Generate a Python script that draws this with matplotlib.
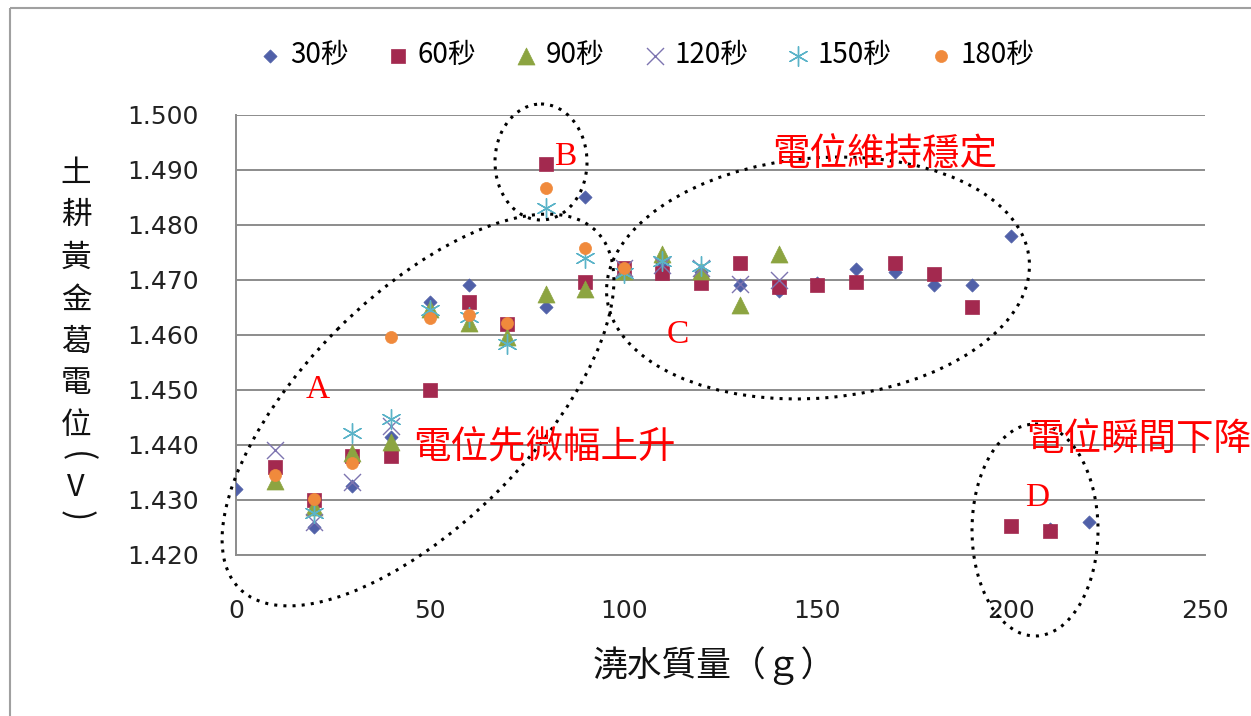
import matplotlib
matplotlib.use('Agg')
import matplotlib.pyplot as plt
from matplotlib.patches import Ellipse, Rectangle

# 澆水質量 (g) 與各浸泡時間的電位 (V)
x_30 = [0, 20, 30, 40, 50, 60, 80, 90, 100, 110, 120, 130, 140, 150, 160, 170, 180, 190, 200, 210, 220]
y_30 = [1.432, 1.425, 1.4325, 1.4415, 1.466, 1.469, 1.465, 1.485, 1.472, 1.473, 1.4715, 1.469, 1.468,
        1.4695, 1.472, 1.4715, 1.469, 1.469, 1.478, 1.4247, 1.426]

x_60 = [10, 20, 30, 40, 50, 60, 70, 80, 90, 100, 110, 120, 130, 140, 150, 160, 170, 180, 190, 200, 210]
y_60 = [1.436, 1.430, 1.438, 1.438, 1.450, 1.466, 1.462, 1.491, 1.4697, 1.4722, 1.4712, 1.4695, 1.473,
        1.4688, 1.469, 1.4697, 1.473, 1.471, 1.465, 1.4252, 1.4243]

x_90 = [10, 20, 30, 40, 50, 60, 70, 80, 90, 100, 110, 120, 130, 140]
y_90 = [1.4335, 1.4288, 1.4385, 1.4405, 1.4648, 1.4622, 1.4597, 1.4675, 1.4683, 1.4716, 1.4748,
        1.4716, 1.4655, 1.4748]

x_120 = [10, 20, 30, 40, 100, 110, 120, 130, 140]
y_120 = [1.439, 1.426, 1.4333, 1.4435, 1.4722, 1.4728, 1.4722, 1.4693, 1.4700]

x_150 = [20, 30, 40, 50, 60, 70, 80, 90, 100, 110, 120]
y_150 = [1.4276, 1.4422, 1.4447, 1.4645, 1.4632, 1.4583, 1.4831, 1.474, 1.4712, 1.4735, 1.4725]

x_180 = [10, 20, 30, 40, 50, 60, 70, 80, 90, 100]
y_180 = [1.4345, 1.4302, 1.4368, 1.4597, 1.4631, 1.4637, 1.4621, 1.4867, 1.4758, 1.4722]

labels = ['30秒', '60秒', '90秒', '120秒', '150秒', '180秒']
x_ticks = [0, 50, 100, 150, 200, 250]
y_ticks = [1.420, 1.430, 1.440, 1.450, 1.460, 1.470, 1.480, 1.490, 1.500]
y_label_chars = ['土', '耕', '黃', '金', '葛', '電', '位', '(', 'V', ')']

plt.rcParams['font.family'] = ['Noto Sans CJK TC', 'DejaVu Sans']

W, H = 1251, 716
fig = plt.figure(figsize=(W / 100, H / 100), dpi=100)
fig.patch.set_facecolor('white')

ax = fig.add_axes([236 / W, 1 - 555 / H, (1205 - 236) / W, (555 - 115) / H])

series = [
    (x_30, y_30, 'D', 45, '#5060a8', 0.5),
    (x_60, y_60, 's', 110, '#a3294f', 0.5),
    (x_90, y_90, '^', 150, '#8ca441', 0.5),
    (x_120, y_120, 'x', 150, '#7d74b0', 1.0),
    (x_150, y_150, (6, 2, 0), 200, '#5ab3c8', 1.0),
    (x_180, y_180, 'o', 75, '#f08a3c', 0.5),
]
handles = []
for i, (xs, ys, m, s, c, lw) in enumerate(series):
    if m in ('x', (6, 2, 0)):
        h = ax.scatter(xs, ys, marker=m, s=s, color=c, linewidths=lw, zorder=3 + i)
    else:
        h = ax.scatter(xs, ys, marker=m, s=s, color=c, edgecolors=c, linewidths=lw, zorder=3 + i)
    handles.append(h)

ax.set_xlim(0, 250)
ax.set_ylim(1.420, 1.500)
ax.set_xticks(x_ticks)
ax.set_yticks(y_ticks)
ax.set_yticklabels(['%.3f' % v for v in y_ticks])
ax.tick_params(length=0, labelsize=18, labelcolor='#222222')
ax.tick_params(axis='y', pad=27)
ax.tick_params(axis='x', pad=32)
for t in ax.get_xticklabels() + ax.get_yticklabels():
    t.set_fontfamily('DejaVu Sans')

ax.grid(axis='y', color='#8c8c8c', lw=1.4)
ax.set_axisbelow(True)
for side in ['top', 'right']:
    ax.spines[side].set_visible(False)
ax.spines['left'].set_color('#8c8c8c')
ax.spines['left'].set_linewidth(1.4)
ax.spines['bottom'].set_color('#8c8c8c')
ax.spines['bottom'].set_linewidth(1.4)

fig.legend(handles, labels, loc='center', bbox_to_anchor=(0.515, 1 - 55 / H), ncol=6,
           frameon=False, fontsize=20, handletextpad=0.1, columnspacing=1.2,
           scatterpoints=1, handlelength=1.2)

# 圈選區塊與說明文字 (以像素座標繪製)
ov = fig.add_axes([0, 0, 1, 1], zorder=10)
ov.set_xlim(0, W)
ov.set_ylim(H, 0)
ov.axis('off')
ov.patch.set_alpha(0)

ov.add_patch(Rectangle((10, 8), 1400, 900, fill=False, edgecolor='#a0a0a0', lw=1.5))

dots = dict(fill=False, edgecolor='black', lw=2.2, linestyle=(0, (1, 2)))
ov.add_patch(Ellipse((418, 410), 505, 228, angle=-45, **dots))
ov.add_patch(Ellipse((541, 162), 92, 116, angle=0, **dots))
ov.add_patch(Ellipse((818, 278), 424, 240, angle=-5, **dots))
ov.add_patch(Ellipse((1035, 530), 126, 212, angle=0, **dots))

ov.text(885, 155, '電位維持穩定', color='red', fontsize=27, ha='center', va='center')
ov.text(544, 448, '電位先微幅上升', color='red', fontsize=27, ha='center', va='center')
ov.text(1026, 440, '電位瞬間下降', color='red', fontsize=27, ha='left', va='center')

serif = dict(color='red', fontsize=24, ha='center', va='center', family='Liberation Serif')
ov.text(318, 390, 'A', **serif)
ov.text(565, 157, 'B', **serif)
ov.text(678, 335, 'C', **serif)
ov.text(1037, 498, 'D', **serif)

# 直式 y 軸標題，括號轉向
y_pos = [173, 215, 258, 300, 342, 383, 425, 457, 487, 516]
for ch, yy in zip(y_label_chars, y_pos):
    rot = -90 if ch in '()' else 0
    ov.text(76, yy, ch, ha='center', va='center', fontsize=22 if ch not in '()' else 24,
            rotation=rot, color='#111111', family='Noto Sans CJK TC')

ov.text(714, 666, '澆水質量（ｇ）', ha='center', va='center', fontsize=25, color='#111111')

fig.savefig('out.png', dpi=100)
